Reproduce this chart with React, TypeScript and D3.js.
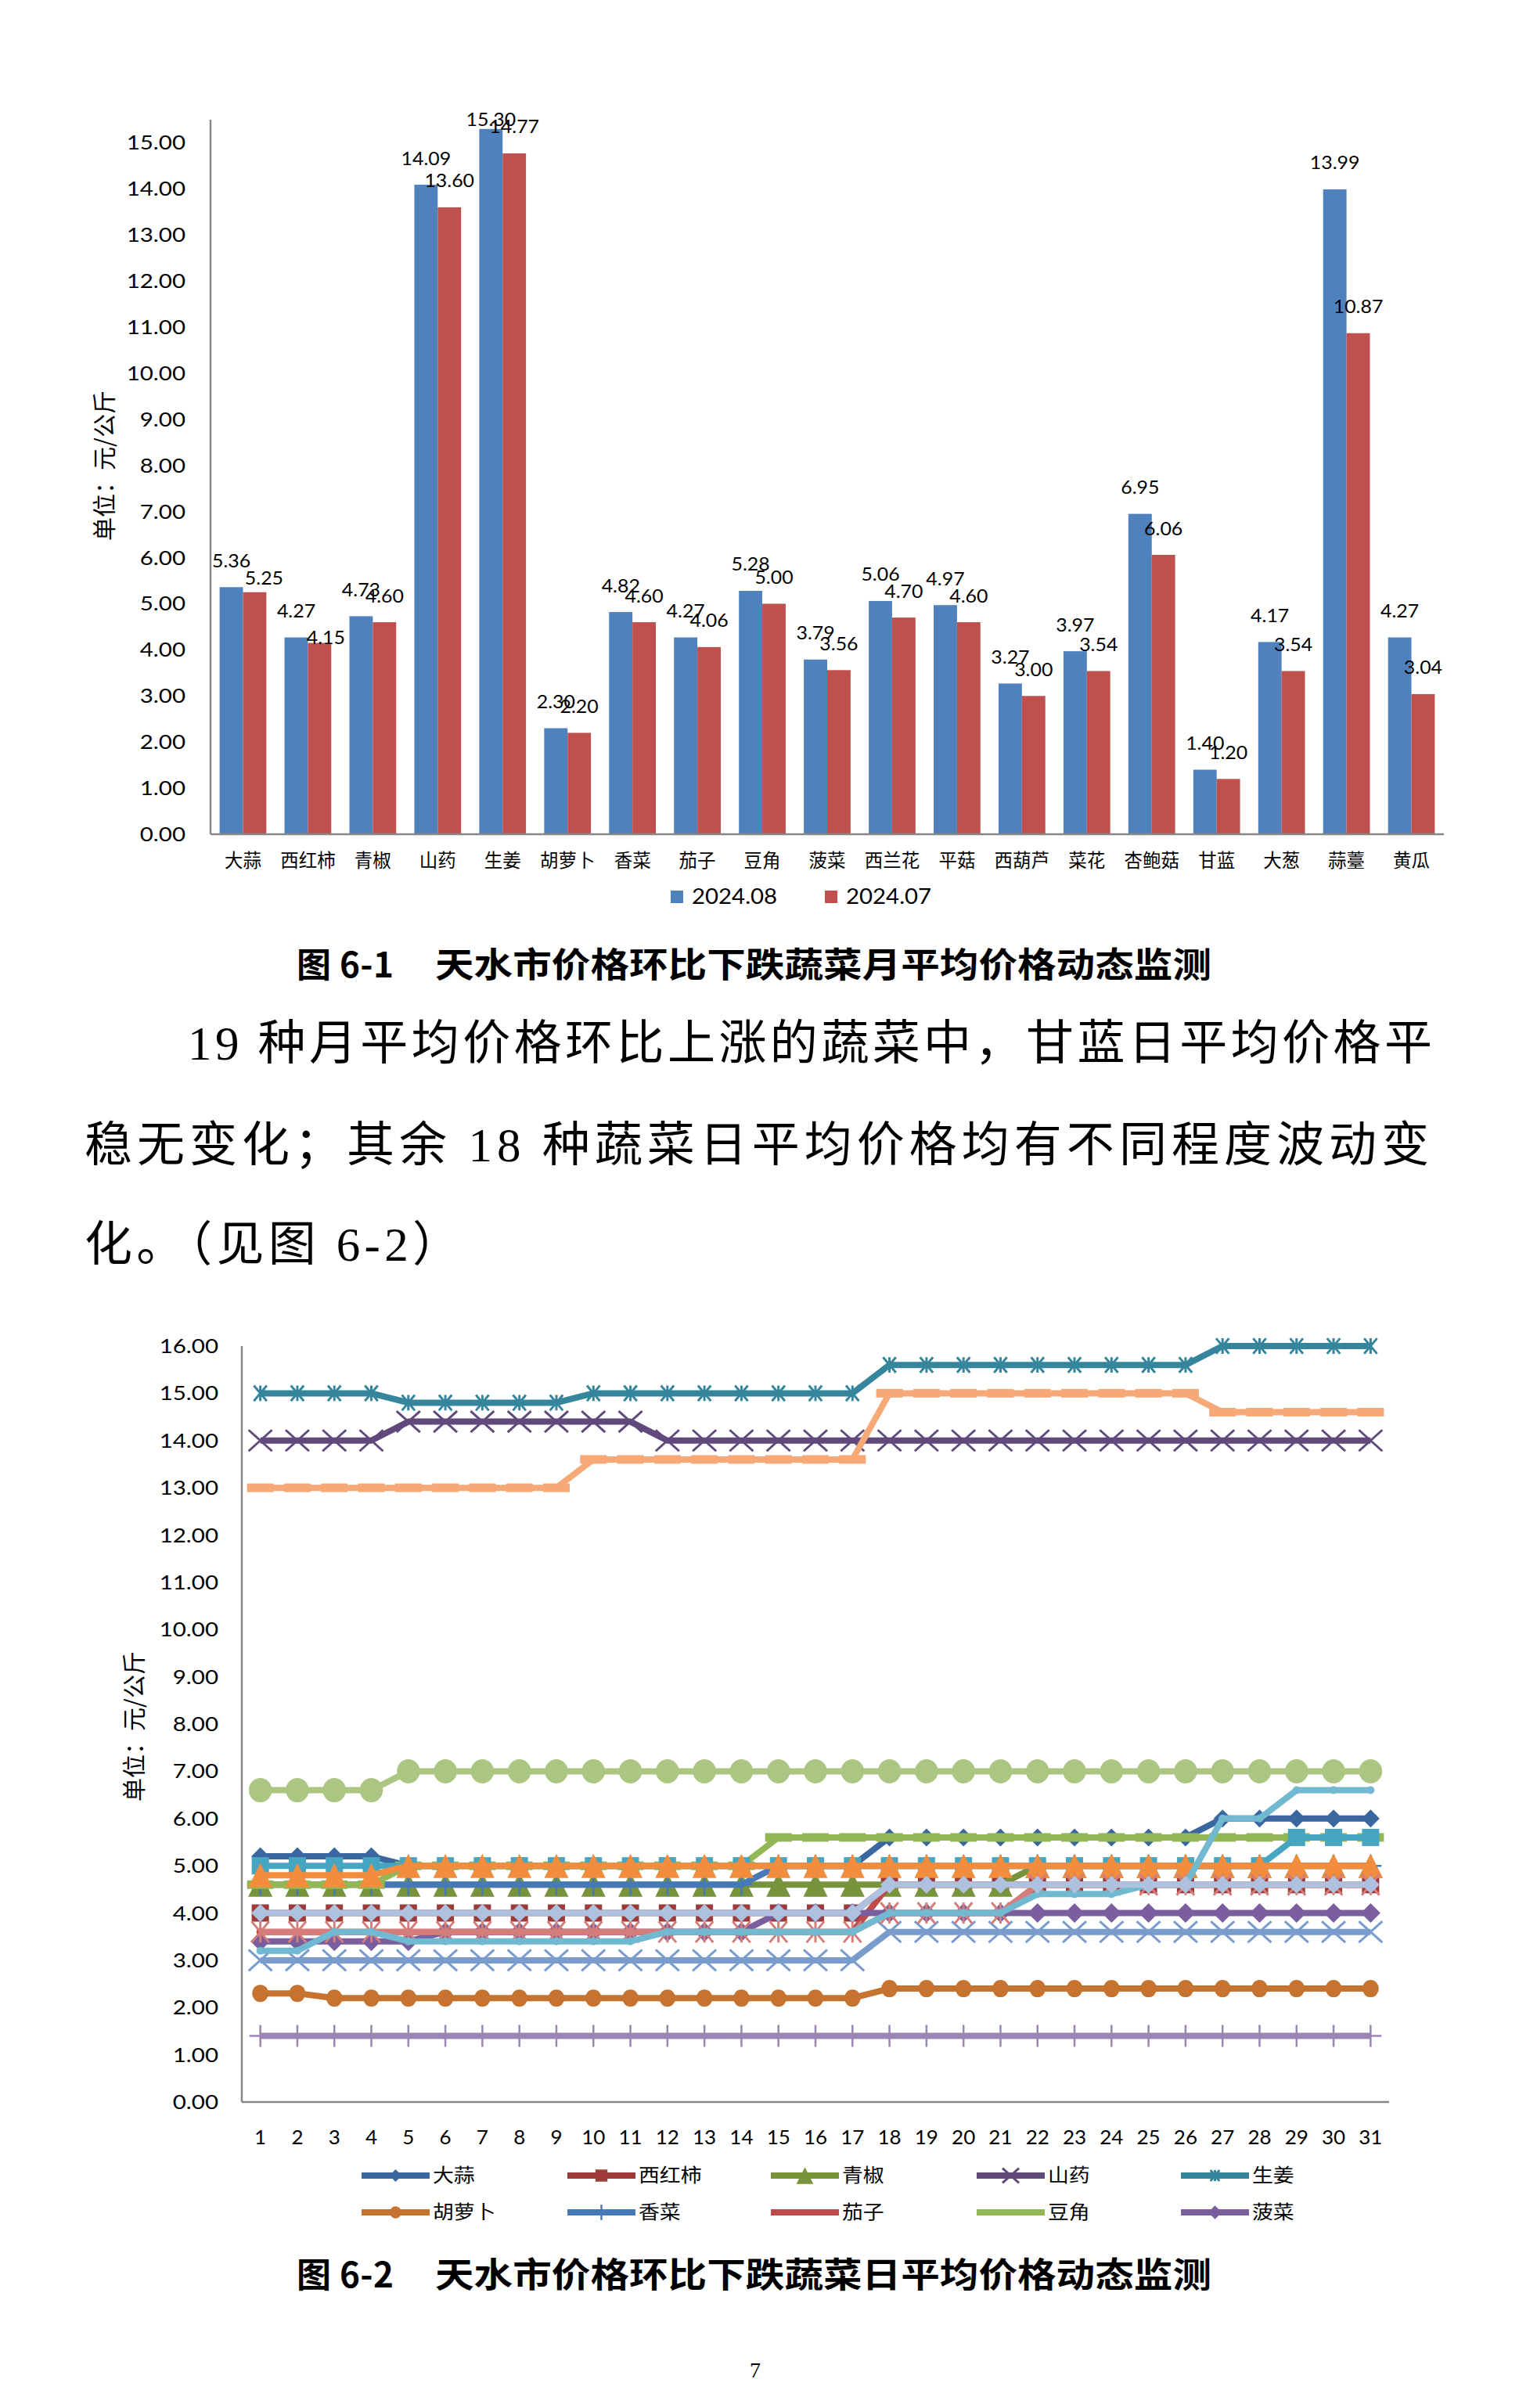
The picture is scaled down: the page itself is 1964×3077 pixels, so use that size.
import React from 'react';
import * as d3 from 'd3';

// ---------------- DATA ----------------
const categories = ['大蒜', '西红柿', '青椒', '山药', '生姜', '胡萝卜', '香菜', '茄子', '豆角', '菠菜', '西兰花', '平菇', '西葫芦', '菜花', '杏鲍菇', '甘蓝', '大葱', '蒜薹', '黄瓜'];
const valuesAug = [5.36, 4.27, 4.73, 14.09, 15.30, 2.30, 4.82, 4.27, 5.28, 3.79, 5.06, 4.97, 3.27, 3.97, 6.95, 1.40, 4.17, 13.99, 4.27];
const valuesJul = [5.25, 4.15, 4.60, 13.60, 14.77, 2.20, 4.60, 4.06, 5.00, 3.56, 4.70, 4.60, 3.00, 3.54, 6.06, 1.20, 3.54, 10.87, 3.04];
const barSeriesNames = ['2024.08', '2024.07'];
const barTicks = [0, 1, 2, 3, 4, 5, 6, 7, 8, 9, 10, 11, 12, 13, 14, 15];

const days = [1, 2, 3, 4, 5, 6, 7, 8, 9, 10, 11, 12, 13, 14, 15, 16, 17, 18, 19, 20, 21, 22, 23, 24, 25, 26, 27, 28, 29, 30, 31];
const lineTicks = [0, 1, 2, 3, 4, 5, 6, 7, 8, 9, 10, 11, 12, 13, 14, 15, 16];

const dDasuan = [5.2, 5.2, 5.2, 5.2, 5.0, 5.0, 5.0, 5.0, 5.0, 5.0, 5.0, 5.0, 5.0, 5.0, 5.0, 5.0, 5.0, 5.6, 5.6, 5.6, 5.6, 5.6, 5.6, 5.6, 5.6, 5.6, 6.0, 6.0, 6.0, 6.0, 6.0];
const dXihongshi = [4.0, 4.0, 4.0, 4.0, 4.0, 4.0, 4.0, 4.0, 4.0, 4.0, 4.0, 4.0, 4.0, 4.0, 4.0, 4.0, 4.0, 4.6, 4.6, 4.6, 4.6, 4.6, 4.6, 4.6, 4.6, 4.6, 4.6, 4.6, 4.6, 4.6, 4.6];
const dQingjiao = [4.6, 4.6, 4.6, 4.6, 4.6, 4.6, 4.6, 4.6, 4.6, 4.6, 4.6, 4.6, 4.6, 4.6, 4.6, 4.6, 4.6, 4.6, 4.6, 4.6, 4.6, 5.0, 5.0, 5.0, 5.0, 5.0, 5.0, 5.0, 5.0, 5.0, 5.0];
const dShanyao = [14.0, 14.0, 14.0, 14.0, 14.4, 14.4, 14.4, 14.4, 14.4, 14.4, 14.4, 14.0, 14.0, 14.0, 14.0, 14.0, 14.0, 14.0, 14.0, 14.0, 14.0, 14.0, 14.0, 14.0, 14.0, 14.0, 14.0, 14.0, 14.0, 14.0, 14.0];
const dShengjiang = [15.0, 15.0, 15.0, 15.0, 14.8, 14.8, 14.8, 14.8, 14.8, 15.0, 15.0, 15.0, 15.0, 15.0, 15.0, 15.0, 15.0, 15.6, 15.6, 15.6, 15.6, 15.6, 15.6, 15.6, 15.6, 15.6, 16.0, 16.0, 16.0, 16.0, 16.0];
const dHuluobo = [2.3, 2.3, 2.2, 2.2, 2.2, 2.2, 2.2, 2.2, 2.2, 2.2, 2.2, 2.2, 2.2, 2.2, 2.2, 2.2, 2.2, 2.4, 2.4, 2.4, 2.4, 2.4, 2.4, 2.4, 2.4, 2.4, 2.4, 2.4, 2.4, 2.4, 2.4];
const dXiangcai = [4.6, 4.6, 4.6, 4.6, 4.6, 4.6, 4.6, 4.6, 4.6, 4.6, 4.6, 4.6, 4.6, 4.6, 5.0, 5.0, 5.0, 5.0, 5.0, 5.0, 5.0, 5.0, 5.0, 5.0, 5.0, 5.0, 5.0, 5.0, 5.0, 5.0, 5.0];
const dQiezi = [3.6, 3.6, 3.6, 3.6, 3.6, 3.6, 3.6, 3.6, 3.6, 3.6, 3.6, 3.6, 3.6, 3.6, 3.6, 3.6, 3.6, 4.6, 4.6, 4.6, 4.6, 4.6, 4.6, 4.6, 4.6, 4.6, 4.6, 4.6, 4.6, 4.6, 4.6];
const dDoujiao = [4.6, 4.6, 4.6, 4.6, 5.0, 5.0, 5.0, 5.0, 5.0, 5.0, 5.0, 5.0, 5.0, 5.0, 5.6, 5.6, 5.6, 5.6, 5.6, 5.6, 5.6, 5.6, 5.6, 5.6, 5.6, 5.6, 5.6, 5.6, 5.6, 5.6, 5.6];
const dBocai = [3.4, 3.4, 3.4, 3.4, 3.4, 3.6, 3.6, 3.6, 3.6, 3.6, 3.6, 3.6, 3.6, 3.6, 4.0, 4.0, 4.0, 4.0, 4.0, 4.0, 4.0, 4.0, 4.0, 4.0, 4.0, 4.0, 4.0, 4.0, 4.0, 4.0, 4.0];
const dXilanhua = [5.0, 5.0, 5.0, 5.0, 5.0, 5.0, 5.0, 5.0, 5.0, 5.0, 5.0, 5.0, 5.0, 5.0, 5.0, 5.0, 5.0, 5.0, 5.0, 5.0, 5.0, 5.0, 5.0, 5.0, 5.0, 5.0, 5.0, 5.0, 5.6, 5.6, 5.6];
const dPinggu = [4.8, 4.8, 4.8, 4.8, 5.0, 5.0, 5.0, 5.0, 5.0, 5.0, 5.0, 5.0, 5.0, 5.0, 5.0, 5.0, 5.0, 5.0, 5.0, 5.0, 5.0, 5.0, 5.0, 5.0, 5.0, 5.0, 5.0, 5.0, 5.0, 5.0, 5.0];
const dXihulu = [3.0, 3.0, 3.0, 3.0, 3.0, 3.0, 3.0, 3.0, 3.0, 3.0, 3.0, 3.0, 3.0, 3.0, 3.0, 3.0, 3.0, 3.6, 3.6, 3.6, 3.6, 3.6, 3.6, 3.6, 3.6, 3.6, 3.6, 3.6, 3.6, 3.6, 3.6];
const dCaihua = [3.6, 3.6, 3.6, 3.6, 3.6, 3.6, 3.6, 3.6, 3.6, 3.6, 3.6, 3.6, 3.6, 3.6, 3.6, 3.6, 3.6, 4.0, 4.0, 4.0, 4.0, 4.6, 4.6, 4.6, 4.6, 4.6, 4.6, 4.6, 4.6, 4.6, 4.6];
const dXingbaogu = [6.6, 6.6, 6.6, 6.6, 7.0, 7.0, 7.0, 7.0, 7.0, 7.0, 7.0, 7.0, 7.0, 7.0, 7.0, 7.0, 7.0, 7.0, 7.0, 7.0, 7.0, 7.0, 7.0, 7.0, 7.0, 7.0, 7.0, 7.0, 7.0, 7.0, 7.0];
const dGanlan = [1.4, 1.4, 1.4, 1.4, 1.4, 1.4, 1.4, 1.4, 1.4, 1.4, 1.4, 1.4, 1.4, 1.4, 1.4, 1.4, 1.4, 1.4, 1.4, 1.4, 1.4, 1.4, 1.4, 1.4, 1.4, 1.4, 1.4, 1.4, 1.4, 1.4, 1.4];
const dDacong = [3.2, 3.2, 3.6, 3.6, 3.4, 3.4, 3.4, 3.4, 3.4, 3.4, 3.4, 3.6, 3.6, 3.6, 3.6, 3.6, 3.6, 4.0, 4.0, 4.0, 4.0, 4.4, 4.4, 4.4, 4.6, 4.6, 6.0, 6.0, 6.6, 6.6, 6.6];
const dSuantai = [13.0, 13.0, 13.0, 13.0, 13.0, 13.0, 13.0, 13.0, 13.0, 13.6, 13.6, 13.6, 13.6, 13.6, 13.6, 13.6, 13.6, 15.0, 15.0, 15.0, 15.0, 15.0, 15.0, 15.0, 15.0, 15.0, 14.6, 14.6, 14.6, 14.6, 14.6];
const dHuanggua = [4.0, 4.0, 4.0, 4.0, 4.0, 4.0, 4.0, 4.0, 4.0, 4.0, 4.0, 4.0, 4.0, 4.0, 4.0, 4.0, 4.0, 4.6, 4.6, 4.6, 4.6, 4.6, 4.6, 4.6, 4.6, 4.6, 4.6, 4.6, 4.6, 4.6, 4.6];

const dailySeries = [
  { name: '大蒜', values: dDasuan },
  { name: '西红柿', values: dXihongshi },
  { name: '青椒', values: dQingjiao },
  { name: '山药', values: dShanyao },
  { name: '生姜', values: dShengjiang },
  { name: '胡萝卜', values: dHuluobo },
  { name: '香菜', values: dXiangcai },
  { name: '茄子', values: dQiezi },
  { name: '豆角', values: dDoujiao },
  { name: '菠菜', values: dBocai },
  { name: '西兰花', values: dXilanhua },
  { name: '平菇', values: dPinggu },
  { name: '西葫芦', values: dXihulu },
  { name: '菜花', values: dCaihua },
  { name: '杏鲍菇', values: dXingbaogu },
  { name: '甘蓝', values: dGanlan },
  { name: '大葱', values: dDacong },
  { name: '蒜薹', values: dSuantai },
  { name: '黄瓜', values: dHuanggua },
];
const legendCount = 10;

// ---------------- STYLE ----------------
const NUM_FONT = 'Lato, "Liberation Sans", sans-serif';
const CJK_FONT = '"Noto Sans CJK SC", sans-serif';
const BODY_FONT = '"Liberation Serif", "Noto Sans CJK SC", serif';
const AXIS_COLOR = '#878787';
const barColors = ['#4F81BD', '#C0504D'];
const lineColors = ['#3B67A0', '#9E3B38', '#77933C', '#604A7B', '#35869C', '#C6732F', '#4779B8', '#BE4B48', '#94B755', '#7A5E9E', '#46A6C2', '#F28D3D', '#7A9CCC', '#D57D7B', '#ABC683', '#9A85B4', '#70B9D0', '#F7A877', '#AEC1DF'];
const markerTypes = ['diamond', 'square', 'triangle', 'x', 'star', 'circle', 'plus', 'dot', 'dash', 'diamond', 'square', 'triangle', 'x', 'star', 'circle', 'plus', 'dot', 'dash', 'diamond'];
const markerSizes = [23, 22, 31, 30, 22, 22, 28, 10, 34, 25, 22, 31, 30, 30, 31, 28, 10, 34, 23];
// manual label nudges seen in the original (series index 0 = 2024.08, 1 = 2024.07)
const labelNudge: Record<string, [number, number]> = { '0-1': [12, 16], '1-1': [8, 27], '4-0': [0, 22] };

// ---------------- LAYOUT ----------------
const W = 1964;
const H = 3077;
const BAR = { left: 269, right: 1845, top: 153, bottom: 1066 };
const LINE = { left: 309, right: 1775, top: 1720, bottom: 2686 };

function T(props: any) {
  const { x, y, children, size, family, anchor = 'start', sx = 1, rotate = 0, weight = 400, fill = '#000', dy = '0.36em', textLength, lengthAdjust } = props;
  let tr = `translate(${x},${y})`;
  if (rotate) tr += ` rotate(${rotate})`;
  if (sx !== 1) tr += ` scale(${sx},1)`;
  return (
    <text transform={tr} fontSize={size} fontFamily={family} fontWeight={weight} textAnchor={anchor} dy={dy} fill={fill}
      textLength={textLength} lengthAdjust={lengthAdjust}>{children}</text>
  );
}

function Marker({ type, cx, cy, size, color }: any) {
  const h = size / 2;
  switch (type) {
    case 'diamond':
      return <path d={`M${cx},${cy - h}L${cx + h},${cy}L${cx},${cy + h}L${cx - h},${cy}Z`} fill={color} />;
    case 'square':
      return <rect x={cx - h} y={cy - h} width={size} height={size} fill={color} />;
    case 'triangle':
      return <path d={`M${cx},${cy - h}L${cx + h},${cy + h}L${cx - h},${cy + h}Z`} fill={color} />;
    case 'x': {
      const v = h * 0.9;
      return <path d={`M${cx - h},${cy - v}L${cx + h},${cy + v}M${cx + h},${cy - v}L${cx - h},${cy + v}`} stroke={color} strokeWidth={3} />;
    }
    case 'star': {
      const v = h * 0.9;
      return <path d={`M${cx - h * 0.75},${cy - v}L${cx + h * 0.75},${cy + v}M${cx + h * 0.75},${cy - v}L${cx - h * 0.75},${cy + v}M${cx},${cy - v}L${cx},${cy + v}`} stroke={color} strokeWidth={3} />;
    }
    case 'circle':
      return <ellipse cx={cx} cy={cy} rx={h * 0.95} ry={h} fill={color} />;
    case 'plus':
      return <path d={`M${cx},${cy - h}L${cx},${cy + h}M${cx - h},${cy}L${cx + h},${cy}`} stroke={color} strokeWidth={2.5} />;
    case 'dot':
      return <circle cx={cx} cy={cy} r={h} fill={color} />;
    case 'dash':
      return <rect x={cx - h} y={cy - 5.5} width={size} height={11} fill={color} />;
    default:
      return null;
  }
}

export default function App() {
  // Bar chart scales
  const xBand = d3.scaleBand<string>().domain(categories).range([BAR.left, BAR.right]).paddingInner(0.28).paddingOuter(0.14);
  const xSub = d3.scaleBand<string>().domain(barSeriesNames).range([0, xBand.bandwidth()]);
  const yBar = d3.scaleLinear().domain([0, 15.5]).range([BAR.bottom, BAR.top]);
  const barValues = [valuesAug, valuesJul];

  // Line chart scales
  const xPt = d3.scalePoint<number>().domain(days).range([LINE.left, LINE.right]).padding(0.5);
  const yLine = d3.scaleLinear().domain([0, 16]).range([LINE.bottom, LINE.top]);
  const lineGen = d3.line<number>().x((_, i) => xPt(days[i]) as number).y((v) => yLine(v));

  const legendX = [462, 725, 985, 1248, 1509];
  const legendY = [2780, 2827];

  return (
    <svg width={W} height={H} style={{ position: 'absolute', left: 0, top: 0, background: '#fff' }} xmlns="http://www.w3.org/2000/svg">
      <rect x={0} y={0} width={W} height={H} fill="#fff" />

      {/* ================= BAR CHART (图 6-1) ================= */}
      <g>
        {barTicks.map((t) => (
          <T key={'bt' + t} x={237} y={yBar(t)} size={25} family={NUM_FONT} anchor="end" sx={1.18}>{t.toFixed(2)}</T>
        ))}
        <T x={133} y={595} size={30} family={CJK_FONT} anchor="middle" rotate={-90} dy="0.35em">单位：元/公斤</T>

        {categories.map((c, i) => (
          <g key={'bar' + c}>
            {barSeriesNames.map((s, j) => {
              const v = barValues[j][i];
              const x = (xBand(c) as number) + (xSub(s) as number);
              const y = yBar(v);
              return <rect key={s} x={x} y={y} width={xSub.bandwidth()} height={yBar(0) - y} fill={barColors[j]} />;
            })}
          </g>
        ))}

        <line x1={BAR.left} x2={BAR.left} y1={BAR.top} y2={BAR.bottom} stroke={AXIS_COLOR} strokeWidth={2.5} />
        <line x1={BAR.left} x2={BAR.right} y1={BAR.bottom} y2={BAR.bottom} stroke={AXIS_COLOR} strokeWidth={2.5} />

        {categories.map((c, i) =>
          barSeriesNames.map((s, j) => {
            const v = barValues[j][i];
            const nudge = labelNudge[`${i}-${j}`] || [0, 0];
            const cx = (xBand(c) as number) + (xSub(s) as number) + xSub.bandwidth() / 2 + nudge[0];
            const cy = yBar(v) - 34 + nudge[1];
            return <T key={'lbl' + c + s} x={cx} y={cy} size={23.5} family={NUM_FONT} anchor="middle" sx={1.06}>{v.toFixed(2)}</T>;
          })
        )}

        {categories.map((c) => (
          <T key={'cat' + c} x={(xBand(c) as number) + xBand.bandwidth() / 2} y={1100} size={23.5} family={CJK_FONT} anchor="middle" dy="0.35em">{c}</T>
        ))}

        {/* legend */}
        {barSeriesNames.map((s, j) => {
          const lx = j === 0 ? 857 : 1054;
          return (
            <g key={'bl' + s}>
              <rect x={lx} y={1138} width={16} height={16} fill={barColors[j]} />
              <T x={lx + 27} y={1146} size={26} family={NUM_FONT} sx={1.13}>{s}</T>
            </g>
          );
        })}
      </g>

      {/* caption 6-1 */}
      <T x={379} y={1234} size={44} family={CJK_FONT} weight={700} dy="0.35em" textLength={124} lengthAdjust="spacing">图 6-1</T>
      <T x={556} y={1234} size={44} family={CJK_FONT} weight={700} dy="0.35em" textLength={992} lengthAdjust="spacingAndGlyphs">天水市价格环比下跌蔬菜月平均价格动态监测</T>

      {/* paragraph */}
      <T x={240} y={1333} size={61} family={BODY_FONT} dy="0.35em" textLength={1590} lengthAdjust="spacing">19 种月平均价格环比上涨的蔬菜中，甘蓝日平均价格平</T>
      <T x={108} y={1463} size={61} family={BODY_FONT} dy="0.35em" textLength={1718} lengthAdjust="spacing">稳无变化；其余 18 种蔬菜日平均价格均有不同程度波动变</T>
      <T x={108} y={1590} size={61} family={BODY_FONT} dy="0.35em" textLength={480} lengthAdjust="spacing">化。（见图 6-2）</T>

      {/* ================= LINE CHART (图 6-2) ================= */}
      <g>
        {lineTicks.map((t) => (
          <T key={'lt' + t} x={279} y={yLine(t)} size={25} family={NUM_FONT} anchor="end" sx={1.18}>{t.toFixed(2)}</T>
        ))}
        <T x={171} y={2206} size={30} family={CJK_FONT} anchor="middle" rotate={-90} dy="0.35em">单位：元/公斤</T>
        {days.map((d) => (
          <T key={'ld' + d} x={xPt(d) as number} y={2731} size={25} family={NUM_FONT} anchor="middle" sx={1.04}>{String(d)}</T>
        ))}

        <line x1={LINE.left} x2={LINE.left} y1={LINE.top} y2={LINE.bottom} stroke={AXIS_COLOR} strokeWidth={2.5} />
        <line x1={LINE.left} x2={LINE.right} y1={LINE.bottom} y2={LINE.bottom} stroke={AXIS_COLOR} strokeWidth={2.5} />

        {dailySeries.map((s, k) => (
          <g key={'ser' + s.name}>
            <path d={lineGen(s.values) as string} fill="none" stroke={lineColors[k]} strokeWidth={8} strokeLinejoin="round" />
            {s.values.map((v, i) => (
              <Marker key={i} type={markerTypes[k]} cx={xPt(days[i]) as number} cy={yLine(v)} size={markerSizes[k]} color={lineColors[k]} />
            ))}
          </g>
        ))}

        {/* legend (first 10 series) */}
        {dailySeries.slice(0, legendCount).map((s, k) => {
          const lx = legendX[k % 5];
          const ly = legendY[Math.floor(k / 5)];
          const isFlat = markerTypes[k] === 'dash' || markerTypes[k] === 'dot';
          return (
            <g key={'lg' + s.name}>
              <line x1={lx} x2={lx + 87} y1={ly} y2={ly} stroke={lineColors[k]} strokeWidth={8} />
              {!isFlat && <Marker type={markerTypes[k]} cx={lx + 43.5} cy={ly} size={markerSizes[k] * 0.7} color={lineColors[k]} />}
              <T x={lx + 91} y={ly} size={24} family={CJK_FONT} sx={1.12} dy="0.35em">{s.name}</T>
            </g>
          );
        })}
      </g>

      {/* caption 6-2 */}
      <T x={379} y={2908} size={44} family={CJK_FONT} weight={700} dy="0.35em" textLength={124} lengthAdjust="spacing">图 6-2</T>
      <T x={556} y={2908} size={44} family={CJK_FONT} weight={700} dy="0.35em" textLength={992} lengthAdjust="spacingAndGlyphs">天水市价格环比下跌蔬菜日平均价格动态监测</T>

      {/* page number */}
      <T x={965} y={3028} size={28} family={BODY_FONT} anchor="middle" dy="0.35em">7</T>
    </svg>
  );
}
